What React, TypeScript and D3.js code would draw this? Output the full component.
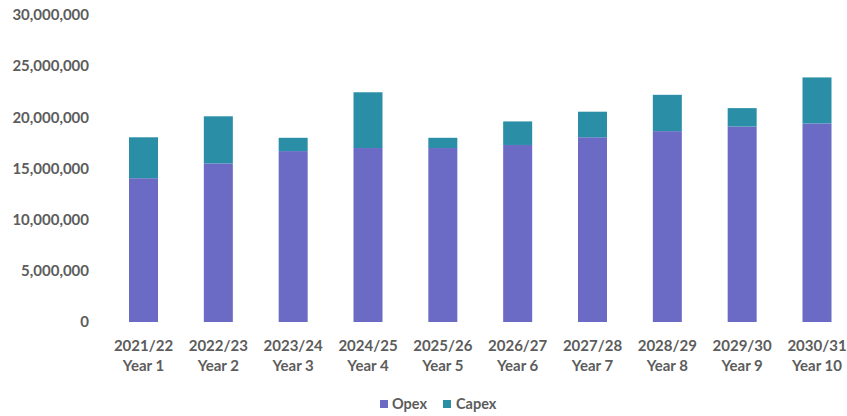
import React from "react";
import * as d3 from "d3";

const categories = ["2021/22|Year 1", "2022/23|Year 2", "2023/24|Year 3", "2024/25|Year 4", "2025/26|Year 5", "2026/27|Year 6", "2027/28|Year 7", "2028/29|Year 8", "2029/30|Year 9", "2030/31|Year 10"];
const opex = [14.05, 15.5, 16.7, 17.0, 17.0, 17.3, 18.05, 18.65, 19.1, 19.4].map((v) => v * 1e6);
const capex = [4.0, 4.6, 1.3, 5.45, 1.0, 2.3, 2.5, 3.55, 1.8, 4.5].map((v) => v * 1e6);
const yTicks = [0, 5e6, 10e6, 15e6, 20e6, 25e6, 30e6];
const seriesNames = ["Opex", "Capex"];

const W = 847;
const H = 416;
const colors = ["#6B6BC6", "#2A8FA6"];
const font = "Lato, 'Open Sans', sans-serif";
const textFill = "#5c5c5c";

export default function App() {
  const x = d3.scalePoint().domain(categories).range([143.5, 817]);
  const y = d3.scaleLinear().domain([0, 30e6]).range([322, 15]);
  const fmt = d3.format(",");
  const bw = 29;
  return (
    <svg width={W} height={H} style={{ position: "absolute", left: 0, top: 0, background: "#fff" }}>
      {yTicks.map((t) => (
        <text key={t} x={89} y={y(t)} dy="0.35em" textAnchor="end" fontFamily={font} fontWeight={700} fontSize={15} fill={textFill}>
          {fmt(t)}
        </text>
      ))}
      {categories.map((c, i) => {
        const cx = x(c) as number;
        const [l1, l2] = c.split("|");
        return (
          <g key={c}>
            <rect x={cx - bw / 2} y={y(opex[i])} width={bw} height={y(0) - y(opex[i])} fill={colors[0]} />
            <rect x={cx - bw / 2} y={y(opex[i] + capex[i])} width={bw} height={y(opex[i]) - y(opex[i] + capex[i])} fill={colors[1]} />
            <text x={cx} y={351} textAnchor="middle" fontFamily={font} fontWeight={700} fontSize={15} fill={textFill}>{l1}</text>
            <text x={cx} y={371} textAnchor="middle" fontFamily={font} fontWeight={700} fontSize={15} fill={textFill}>{l2}</text>
          </g>
        );
      })}
      <g>
        <rect x={380} y={400} width={8} height={8} fill={colors[0]} />
        <text x={392} y={404} dy="0.35em" fontFamily={font} fontWeight={700} fontSize={14.5} fill={textFill}>{seriesNames[0]}</text>
        <rect x={443} y={400} width={8} height={8} fill={colors[1]} />
        <text x={456} y={404} dy="0.35em" fontFamily={font} fontWeight={700} fontSize={14.5} fill={textFill}>{seriesNames[1]}</text>
      </g>
    </svg>
  );
}
